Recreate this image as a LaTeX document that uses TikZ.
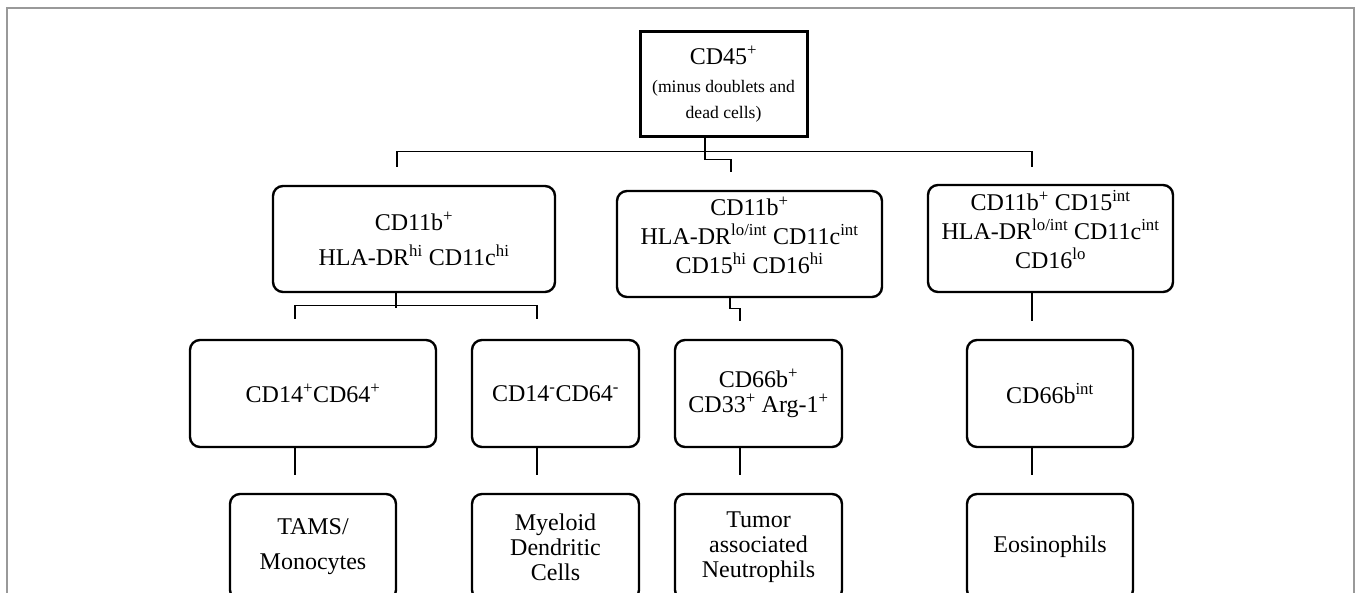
\documentclass[tikz,border=0pt]{standalone}
\usepackage{fontspec}
\setmainfont{Liberation Serif}
\usetikzlibrary{positioning}
\begin{document}
\begin{tikzpicture}[x=1pt,y=-1pt,
  every node/.style={draw,rounded corners=10pt,line width=2.4pt,align=center,inner sep=0pt,font=\fontsize{24}{32}\selectfont},
  tight/.style={font=\fontsize{24}{25}\selectfont},
  airy/.style={font=\fontsize{24}{35}\selectfont},
  triple/.style={font=\fontsize{24}{29}\selectfont,text depth=18pt},
  box/.style 2 args={minimum width=#1pt,minimum height=#2pt},
  link/.style={line width=1.3pt},
  frame/.style={draw=black!40,line width=1.5pt}
]
\useasboundingbox (0,0) rectangle (1356,593);
\clip (0,0) rectangle (1356,593);
\draw[frame] (7,600) -- (7,8) -- (1354,8) -- (1354,600);
\node[box={167}{105},sharp corners,line width=3pt,font=\fontsize{17.6}{26}\selectfont] (cd45) at (723.5,84.5)
  {{\fontsize{24}{24}\selectfont CD45\textsuperscript{+}}\\[2pt](minus doublets and\\dead cells)};
\node[box={282}{106},airy] (macro) at (414,239) {CD11b\textsuperscript{+}\\HLA-DR\textsuperscript{hi} CD11c\textsuperscript{hi}};
\node[box={265}{106},triple] (neutro) at (749.5,244) {CD11b\textsuperscript{+}\\HLA-DR\textsuperscript{lo/int} CD11c\textsuperscript{int}\\CD15\textsuperscript{hi} CD16\textsuperscript{hi}};
\node[box={245}{107},triple] (eosino) at (1050.5,238.5) {CD11b\textsuperscript{+} CD15\textsuperscript{int}\\HLA-DR\textsuperscript{lo/int} CD11c\textsuperscript{int}\\CD16\textsuperscript{lo}};
\node[box={246}{107}] (cd14p) at (313,393.5) {CD14\textsuperscript{+}CD64\textsuperscript{+}};
\node[box={167}{107}] (cd14n) at (555.5,393.5) {CD14\textsuperscript{-}CD64\textsuperscript{-}};
\node[box={167}{107},tight] (cd66p) at (758.5,393.5) {CD66b\textsuperscript{+}\\CD33\textsuperscript{+} Arg-1\textsuperscript{+}};
\node[box={166}{107}] (cd66i) at (1050,393.5) {CD66b\textsuperscript{int}};
\node[box={166}{106},airy] (tams) at (313,547) {TAMS/\\Monocytes};
\node[box={167}{106},tight] (mdc) at (555.5,547) {Myeloid\\Dendritic\\Cells};
\node[box={167}{106},tight] (tan) at (758.5,547) {Tumor\\associated\\Neutrophils};
\node[box={166}{106}] (eos) at (1050,547) {Eosinophils};
\draw[link] ([xshift=-18.5pt]cd45.south) -- ++(0,21) -| ([shift={(-18.5,-18)}]neutro.north);
\draw[link] ([shift={(-17,-18)}]macro.north) -- ++(0,-15) -| ([shift={(-18.5,-17)}]eosino.north);
\draw[link] ([xshift=-18pt]macro.south) -- ++(0,15);
\draw[link] ([shift={(-18,-20)}]cd14p.north) -- ++(0,-13) -| ([shift={(-18.5,-20)}]cd14n.north);
\draw[link] ([xshift=-19.5pt]neutro.south) -- ++(0,10) -| ([shift={(-18.5,-18)}]cd66p.north);
\draw[link] ([xshift=-18.5pt]eosino.south) -- ([shift={(-18,-18)}]cd66i.north);
\draw[link] ([xshift=-18pt]cd14p.south) -- ([shift={(-18,-18)}]tams.north);
\draw[link] ([xshift=-18.5pt]cd14n.south) -- ([shift={(-18.5,-18)}]mdc.north);
\draw[link] ([xshift=-18.5pt]cd66p.south) -- ([shift={(-18.5,-18)}]tan.north);
\draw[link] ([xshift=-18pt]cd66i.south) -- ([shift={(-18,-18)}]eos.north);
\end{tikzpicture}
\end{document}
